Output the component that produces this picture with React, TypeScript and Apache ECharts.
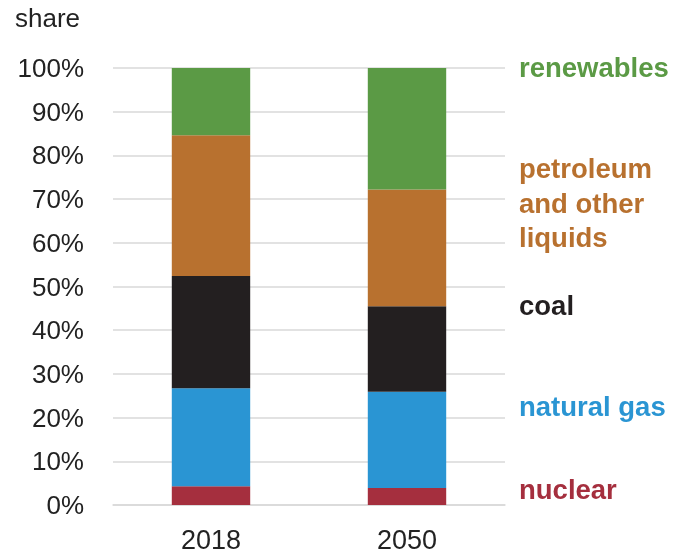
import React, { useEffect, useRef } from "react";
import * as echarts from "echarts";

const years = ["2018", "2050"];
const nuclear = [4.3, 3.9];
const naturalGas = [22.4, 22.0];
const coal = [25.7, 19.6];
const petroleum = [32.2, 26.7];
const renewables = [15.4, 27.8];
const yTicks = [0, 10, 20, 30, 40, 50, 60, 70, 80, 90, 100];

const colors = {
  nuclear: "#a52f3e",
  gas: "#2a95d3",
  coal: "#231f20",
  petroleum: "#b8712f",
  renewables: "#5b9a45",
};

const FONT = "Liberation Sans, Arial, Helvetica, sans-serif";

export default function App() {
  const ref = useRef<HTMLDivElement>(null);
  useEffect(() => {
    if (!ref.current) return;
    const chart = echarts.init(ref.current, null, { renderer: "svg" });
    const mk = (name: string, data: number[], color: string) => ({
      name,
      type: "bar",
      stack: "total",
      data,
      barWidth: "40%",
      itemStyle: { color },
      emphasis: { disabled: true },
    });
    const labelStyle = (color: string) => ({
      fill: color,
      font: `bold 27.5px ${FONT}`,
      textVerticalAlign: "middle",
    });
    chart.setOption({
      animation: false,
      grid: { left: 113, right: 172, top: 68, bottom: 49, containLabel: false },
      xAxis: {
        type: "category",
        data: years,
        axisLine: { show: true, lineStyle: { color: "#d9d9d9", width: 1.5 } },
        axisTick: { show: false },
        axisLabel: { color: "#222", fontSize: 27, fontFamily: FONT, margin: 21 },
      },
      yAxis: {
        type: "value",
        min: 0,
        max: 100,
        interval: 10,
        axisLine: { show: false },
        axisTick: { show: false },
        splitLine: { lineStyle: { color: "#d9d9d9", width: 1.5 } },
        axisLabel: {
          color: "#222",
          fontSize: 26,
          fontFamily: FONT,
          margin: 29,
          formatter: (v: number) => (yTicks.includes(v) ? `${v}%` : ""),
        },
      },
      graphic: [
        { type: "text", x: 15, y: 18, style: { text: "share", fill: "#222", font: `26px ${FONT}`, textVerticalAlign: "middle" } },
        { type: "text", x: 519, y: 67, style: { text: "renewables", ...labelStyle(colors.renewables) } },
        {
          type: "text",
          x: 519,
          y: 203,
          style: {
            text: "petroleum\nand other\nliquids",
            lineHeight: 34.5,
            ...labelStyle(colors.petroleum),
          },
        },
        { type: "text", x: 519, y: 305, style: { text: "coal", ...labelStyle(colors.coal) } },
        { type: "text", x: 519, y: 406, style: { text: "natural gas", ...labelStyle(colors.gas) } },
        { type: "text", x: 519, y: 489, style: { text: "nuclear", ...labelStyle(colors.nuclear) } },
      ],
      series: [
        mk("nuclear", nuclear, colors.nuclear),
        mk("natural gas", naturalGas, colors.gas),
        mk("coal", coal, colors.coal),
        mk("petroleum and other liquids", petroleum, colors.petroleum),
        mk("renewables", renewables, colors.renewables),
      ],
    });
    return () => chart.dispose();
  }, []);
  return (
    <div
      ref={ref}
      style={{ position: "fixed", left: 0, top: 0, width: 677, height: 554 }}
    />
  );
}
